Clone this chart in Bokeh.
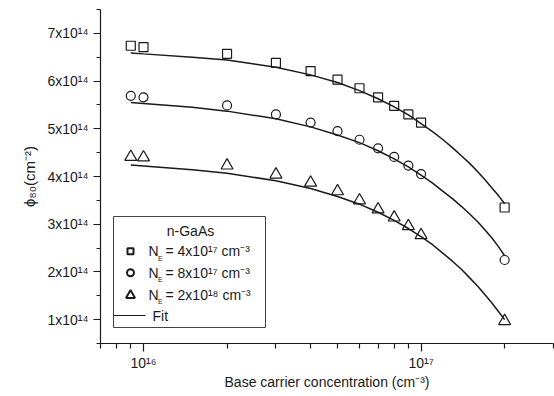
import numpy as np
from bokeh.plotting import figure
from bokeh.models import Range1d, FixedTicker, CustomJSTickFormatter
from bokeh.core.properties import value
from bokeh.embed import file_html
from bokeh.resources import INLINE

# ---------------- data ----------------
N = [9e15, 1e16, 2e16, 3e16, 4e16, 5e16, 6e16, 7e16, 8e16, 9e16, 1e17, 2e17]
phi_NE_4e17 = [6.74e14, 6.71e14, 6.57e14, 6.38e14, 6.21e14, 6.03e14, 5.85e14, 5.66e14, 5.48e14, 5.30e14, 5.13e14, 3.35e14]
phi_NE_8e17 = [5.69e14, 5.66e14, 5.49e14, 5.30e14, 5.13e14, 4.95e14, 4.77e14, 4.59e14, 4.41e14, 4.23e14, 4.05e14, 2.25e14]
phi_NE_2e18 = [4.41e14, 4.40e14, 4.23e14, 4.04e14, 3.87e14, 3.69e14, 3.50e14, 3.31e14, 3.14e14, 2.96e14, 2.77e14, 0.97e14]

N_fit = [9e15, 1e16, 1.5e16, 2e16, 3e16, 4e16, 5e16, 6e16, 7e16, 8e16, 9e16, 1e17,
         1.1e17, 1.2e17, 1.3e17, 1.4e17, 1.5e17, 1.6e17, 1.7e17, 1.8e17, 1.9e17, 2e17]
fit_NE_4e17 = [6.59e14, 6.57e14, 6.50e14, 6.44e14, 6.29e14, 6.13e14, 5.97e14, 5.80e14, 5.63e14, 5.46e14, 5.29e14, 5.11e14,
               4.94e14, 4.77e14, 4.60e14, 4.43e14, 4.27e14, 4.10e14, 3.93e14, 3.76e14, 3.60e14, 3.43e14]
fit_NE_8e17 = [5.55e14, 5.53e14, 5.45e14, 5.37e14, 5.21e14, 5.04e14, 4.87e14, 4.71e14, 4.54e14, 4.37e14, 4.20e14, 4.03e14,
               3.86e14, 3.69e14, 3.53e14, 3.37e14, 3.21e14, 3.05e14, 2.88e14, 2.71e14, 2.53e14, 2.34e14]
fit_NE_2e18 = [4.24e14, 4.22e14, 4.14e14, 4.07e14, 3.91e14, 3.75e14, 3.58e14, 3.42e14, 3.25e14, 3.08e14, 2.91e14, 2.74e14,
               2.57e14, 2.39e14, 2.22e14, 2.05e14, 1.87e14, 1.70e14, 1.52e14, 1.35e14, 1.17e14, 1.00e14]

X_TICKS = [1e16, 1e17]
X_TICK_LABELS = ["10¹⁶", "10¹⁷"]
X_MINOR = [7e15, 8e15, 9e15, 2e16, 3e16, 4e16, 5e16, 6e16, 7e16, 8e16, 9e16, 2e17, 3e17]
Y_TICKS = [1e14, 2e14, 3e14, 4e14, 5e14, 6e14, 7e14]
Y_TICK_LABELS = ["1x10¹⁴", "2x10¹⁴", "3x10¹⁴", "4x10¹⁴", "5x10¹⁴", "6x10¹⁴", "7x10¹⁴"]
Y_MINOR = [0.5e14, 1.5e14, 2.5e14, 3.5e14, 4.5e14, 5.5e14, 6.5e14, 7.5e14]

LEGEND_TITLE = "n-GaAs"
LEGEND_LABELS = ["= 4x10¹⁷ cm⁻³", "= 8x10¹⁷ cm⁻³", "= 2x10¹⁸ cm⁻³"]

X0, X1 = 7e15, 3e17
Y0, Y1 = 0.5e14, 7.5e14

FONT = value("Liberation Sans")
INK = "#1a1a1a"

# ---------------- figure ----------------
p = figure(x_axis_type="log", x_range=Range1d(X0, X1), y_range=Range1d(Y0, Y1),
           frame_width=453, frame_height=334,
           min_border_left=100, min_border_right=1, min_border_top=9, min_border_bottom=52,
           output_backend="svg", toolbar_location=None)
p.xgrid.visible = False
p.ygrid.visible = False
p.outline_line_color = None
p.background_fill_color = "white"
p.border_fill_color = "white"

fmt_code = """
let best = 0;
for (let i = 0; i < vals.length; i++) {
  if (Math.abs(vals[i] - tick) < Math.abs(vals[best] - tick)) best = i;
}
return labs[best];
"""
p.xaxis.ticker = FixedTicker(ticks=X_TICKS, minor_ticks=X_MINOR)
p.xaxis.formatter = CustomJSTickFormatter(args=dict(vals=X_TICKS, labs=X_TICK_LABELS), code=fmt_code)
p.yaxis.ticker = FixedTicker(ticks=Y_TICKS, minor_ticks=Y_MINOR)
p.yaxis.formatter = CustomJSTickFormatter(args=dict(vals=Y_TICKS, labs=Y_TICK_LABELS), code=fmt_code)

for ax in (p.xaxis, p.yaxis):
    ax.axis_line_color = INK
    ax.axis_line_width = 1.2
    ax.major_tick_line_color = INK
    ax.minor_tick_line_color = INK
    ax.major_tick_line_width = 1.2
    ax.minor_tick_line_width = 1.2
    ax.major_tick_in = 0
    ax.minor_tick_in = 0
    ax.major_label_text_font = "Liberation Sans"
    ax.major_label_text_font_size = "14px"
    ax.major_label_text_color = INK
    ax.axis_label_text_font = "Liberation Sans"
    ax.axis_label_text_font_style = "normal"
    ax.axis_label_text_color = INK

p.xaxis.major_tick_out = 8
p.xaxis.minor_tick_out = 5
p.xaxis.major_label_standoff = 3
p.xaxis.axis_label = "Base carrier concentration (cm⁻³)"
p.xaxis.axis_label_text_font_size = "14px"
p.xaxis.axis_label_standoff = 0

p.yaxis.major_tick_out = 7
p.yaxis.minor_tick_out = 4
p.yaxis.major_label_standoff = 5
p.yaxis.axis_label = "ϕ₈₀(cm⁻²)"
p.yaxis.axis_label_text_font_size = "15px"
p.yaxis.axis_label_standoff = 6

# ---------------- fits and data ----------------
for fit in (fit_NE_4e17, fit_NE_8e17, fit_NE_2e18):
    p.line(N_fit, fit, line_color=INK, line_width=1.5)

p.scatter(N, phi_NE_4e17, marker="square", size=9, fill_color=None, line_color=INK, line_width=1.2)
p.scatter(N, phi_NE_8e17, marker="circle", size=9, fill_color=None, line_color=INK, line_width=1.2)
p.scatter(N, phi_NE_2e18, marker="triangle", size=12, fill_color=None, line_color=INK, line_width=1.2)

# ---------------- legend (page-pixel layout converted to data space) ----------------
FL, FT, FW, FH = 100, 9, 453, 334
def xd(px):
    return 10 ** (np.log10(X0) + (px - FL) / FW * np.log10(X1 / X0))
def yd(py):
    return Y0 + (FT + FH - py) / FH * (Y1 - Y0)

p.quad(left=[xd(113)], right=[xd(265)], bottom=[yd(327)], top=[yd(216)],
       fill_color="white", line_color="#444444", line_width=1)

rows = [250.7, 272.3, 294.3]
p.text(x=[xd(190)], y=[yd(230)], text=[LEGEND_TITLE], text_font=FONT, text_font_size="14px",
       text_align="center", text_baseline="middle", text_color=INK)
p.scatter([xd(130)], [yd(rows[0])], marker="square", size=6, fill_color=None, line_color=INK, line_width=2)
p.scatter([xd(130)], [yd(rows[1])], marker="circle", size=7, fill_color=None, line_color=INK, line_width=2)
p.scatter([xd(130)], [yd(rows[2] + 0.5)], marker="triangle", size=9, fill_color=None, line_color=INK, line_width=2)

p.text(x=[xd(148)] * 3, y=[yd(r) for r in rows], text=["N"] * 3, text_font=FONT, text_font_size="14px",
       text_align="left", text_baseline="middle", text_color=INK)
p.text(x=[xd(157.5)] * 3, y=[yd(r + 7) for r in rows], text=["E"] * 3, text_font=FONT, text_font_size="7px",
       text_align="left", text_baseline="middle", text_color=INK)
p.text(x=[xd(165)] * 3, y=[yd(r) for r in rows], text=LEGEND_LABELS, text_font=FONT, text_font_size="14px",
       text_align="left", text_baseline="middle", text_color=INK)

p.line([xd(113), xd(145)], [yd(315), yd(315)], line_color=INK, line_width=1.2)
p.text(x=[xd(152)], y=[yd(315)], text=["Fit"], text_font=FONT, text_font_size="14px",
       text_align="left", text_baseline="middle", text_color=INK)

open("out.html", "w").write(file_html(p, INLINE))
